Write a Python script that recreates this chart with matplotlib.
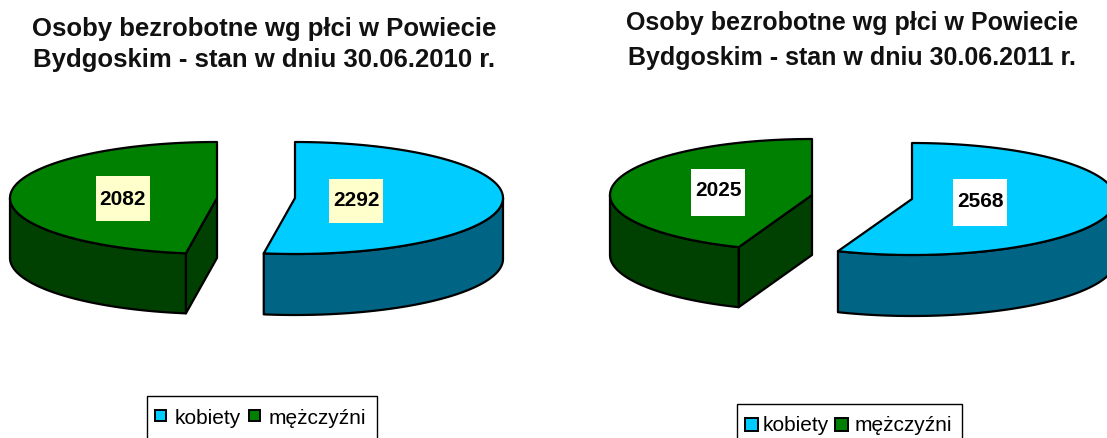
import numpy as np
import matplotlib
matplotlib.use("Agg")
import matplotlib.pyplot as plt
from matplotlib.patches import Polygon, Rectangle

plt.rcParams['font.family'] = ['Liberation Sans', 'DejaVu Sans']

categories = ['kobiety', 'mężczyźni']
values_2010 = [2292, 2082]
values_2011 = [2568, 2025]
title_2010 = 'Osoby bezrobotne wg płci w Powiecie\nBydgoskim - stan w dniu 30.06.2010 r.'
title_2011 = 'Osoby bezrobotne wg płci w Powiecie\nBydgoskim - stan w dniu 30.06.2011 r.'

BLUE, BLUE_D = '#00CCFF', '#006585'
GREEN, GREEN_D = '#008000', '#004000'

fig = plt.figure(figsize=(11.07, 4.39), dpi=100)
ax = fig.add_axes([0, 0, 1, 1])
ax.set_xlim(0, 1107)
ax.set_ylim(439, 0)
ax.axis('off')


def pt(c, a):
    a = np.asarray(a)
    return np.column_stack([c[0] + c[2] * np.sin(a), c[1] - c[3] * np.cos(a)])


def face(p, fc, z):
    ax.add_patch(Polygon(p, closed=True, fc=fc, ec='black', lw=1.6, joinstyle='round', zorder=z))


def blue_wedge(value, total, c, depth):
    end = 2 * np.pi * value / total
    side = pt(c, np.linspace(np.pi / 2, end, 80))
    face(np.vstack([side, (side + [0, depth])[::-1]]), BLUE_D, 2)
    top = pt(c, np.linspace(0, end, 160))
    face(np.vstack([[c[0], c[1]], top]), BLUE, 3)


def green_wedge(value, total, c, depth):
    end = 2 * np.pi * value / total
    ctr = np.array([[c[0], c[1]]])
    e = pt(c, [-end])
    face(np.vstack([ctr, e, e + [0, depth], ctr + [0, depth]]), GREEN_D, 2)
    side = pt(c, np.linspace(-np.pi / 2, -end, 80))
    face(np.vstack([side, (side + [0, depth])[::-1]]), GREEN_D, 2)
    top = pt(c, np.linspace(0, -end, 160))
    face(np.vstack([ctr, top]), GREEN, 3)


def label(value, x, y, h, tx, ty, fc):
    ax.add_patch(Rectangle((x, y), 54, h, fc=fc, ec='none', zorder=4))
    ax.text(tx, ty, str(value), ha='center', va='center', fontsize=15,
            fontweight='bold', color='black', zorder=5)


# 2010
t = sum(values_2010)
blue_wedge(values_2010[0], t, (295, 199, 208, 56), 61)
green_wedge(values_2010[1], t, (217, 199, 207, 56), 60)
label(values_2010[1], 96, 177, 45, 123, 200, '#FFFFCC')
label(values_2010[0], 329, 180, 44, 356, 200.5, '#FFFFCC')

# 2011
t = sum(values_2011)
blue_wedge(values_2011[0], t, (912, 200, 204, 56), 61)
green_wedge(values_2011[1], t, (812, 196, 202, 56), 60)
label(values_2011[1], 691, 170, 47, 718, 191, 'white')
label(values_2011[0], 953, 180, 47, 980, 201.5, 'white')

ax.text(264, 44.5, title_2010, ha='center', va='center', fontsize=18.5, fontweight='bold',
        linespacing=1.38, color='#111111')
ax.text(852, 40.5, title_2011, ha='center', va='center', fontsize=18, fontweight='bold',
        linespacing=1.6, color='#111111')


def legend(x0, x1, y0, sq, t1, t2, sq_size, sq_y, ty):
    ax.add_patch(Rectangle((x0, y0), x1 - x0, 60, fc='white', ec='black', lw=1.0, zorder=2))
    for xs, col in zip(sq, (BLUE, GREEN)):
        ax.add_patch(Rectangle((xs, sq_y - sq_size / 2), sq_size, sq_size, fc=col, ec='black',
                               lw=1.4, zorder=3))
    ax.text(t1, ty, categories[0], ha='left', va='center', fontsize=15, zorder=3)
    ax.text(t2, ty, categories[1], ha='left', va='center', fontsize=15, zorder=3)


legend(147, 377, 397, (155, 249), 175, 269, 11, 417, 418.5)
legend(737, 962, 405, (744.5, 835), 763, 855, 13, 426, 425.5)

fig.savefig('out.png', dpi=100)
